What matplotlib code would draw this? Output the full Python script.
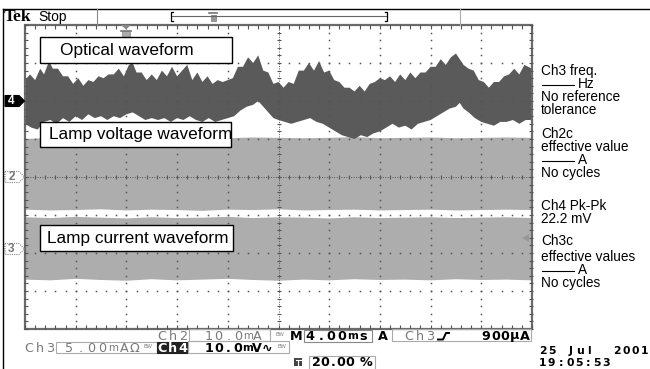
import numpy as np
import matplotlib
matplotlib.use("Agg")
import matplotlib.pyplot as plt
from matplotlib.patches import Rectangle, Polygon

plt.rcParams['font.family'] = ['Liberation Sans', 'DejaVu Sans']

# Ch4 optical waveform envelope (time in ms, level in divisions)
opt_top_t = [0.0, 0.4, 0.8, 1.2, 1.5, 1.9, 2.2, 2.6, 3.0, 3.4, 3.8, 4.2, 4.6, 5.0, 5.4, 5.8,
             6.2, 6.6, 7.0, 7.4, 7.8, 8.2, 8.5, 8.8, 9.2, 9.6, 10.0, 10.4, 10.8, 11.2, 11.6,
             12.0, 12.4, 12.8, 13.2, 13.6, 14.0, 14.4, 14.8, 15.2, 15.6, 16.0, 16.4, 16.8,
             17.2, 17.6, 18.0, 18.4, 18.8, 19.2, 19.6, 20.0, 20.4, 20.8, 21.2, 21.6, 22.0,
             22.4, 22.8, 23.2, 23.6, 24.0, 24.4, 24.8, 25.2, 25.6, 26.0, 26.4, 26.8, 27.2,
             27.6, 28.0, 28.4, 28.8, 29.2, 29.6, 30.0, 30.4, 30.8, 31.2, 31.6, 32.0, 32.4,
             32.8, 33.2, 33.6, 34.0, 34.3, 34.6, 35.0, 35.4, 35.8, 36.2, 36.6, 37.0, 37.4,
             37.8, 38.2, 38.6, 39.0, 39.4, 40.0]
opt_top = [2.55, 2.7, 2.55, 2.85, 2.7, 3.05, 2.85, 2.85, 2.65, 2.65, 2.45, 2.6, 2.4, 2.55, 2.5, 2.65,
           2.6, 2.7, 2.7, 2.85, 2.65, 2.95, 3.0, 2.75, 2.75, 2.55, 2.7, 2.55, 2.8, 2.65, 2.9,
           2.65, 2.8, 2.95, 2.55, 2.75, 2.5, 2.65, 2.45, 2.55, 2.5, 2.55, 2.6, 2.9,
           2.9, 3.15, 3.0, 3.2, 2.8, 2.75, 2.45, 2.5, 2.35, 2.5, 2.45, 2.8, 2.8,
           3.0, 2.8, 3.05, 2.75, 2.8, 2.55, 2.5, 2.35, 2.35, 2.25, 2.4, 2.25, 2.45,
           2.5, 2.6, 2.55, 2.65, 2.5, 2.7, 2.55, 2.75, 2.6, 2.75, 2.75, 2.9, 2.9,
           3.1, 2.95, 3.15, 3.25, 3.1, 2.95, 2.85, 2.8, 2.55, 2.5, 2.35, 2.5, 2.5,
           2.65, 2.7, 2.85, 2.7, 2.95, 2.85]
opt_bot_t = [0.0, 0.5, 1.0, 1.5, 2.0, 2.5, 3.0, 3.5, 4.0, 4.5, 5.0, 5.5, 6.0, 6.5, 7.0, 7.5,
             8.0, 8.5, 9.0, 9.5, 10.0, 10.5, 11.0, 11.5, 12.0, 12.5, 13.0, 13.5, 14.0, 14.5,
             15.0, 15.5, 16.0, 16.5, 17.0, 17.5, 18.0, 18.4, 18.8, 19.2, 19.6, 20.0, 20.5,
             21.0, 21.5, 22.0, 22.5, 23.0, 23.5, 24.0, 24.5, 25.0, 25.5, 26.0, 26.5, 27.0,
             27.5, 28.0, 28.5, 29.0, 29.5, 30.0, 30.5, 31.0, 31.5, 32.0, 32.5, 33.0, 33.5,
             34.0, 34.3, 34.6, 35.0, 35.5, 36.0, 36.5, 37.0, 37.5, 38.0, 38.5, 39.0, 39.5, 40.0]
opt_bot = [1.4, 1.3, 1.25, 1.45, 1.5, 1.4, 1.55, 1.45, 1.6, 1.5, 1.65, 1.55, 1.6, 1.5, 1.6, 1.55,
           1.65, 1.7, 1.6, 1.5, 1.55, 1.5, 1.55, 1.45, 1.55, 1.5, 1.6, 1.5, 1.45, 1.55,
           1.45, 1.5, 1.55, 1.6, 1.75, 1.85, 1.9, 2.0, 1.85, 1.7, 1.55, 1.5, 1.45,
           1.4, 1.45, 1.5, 1.55, 1.45, 1.4, 1.3, 1.2, 1.1, 1.05, 1.0, 1.1, 1.05,
           1.15, 1.2, 1.3, 1.4, 1.3, 1.35, 1.25, 1.4, 1.45, 1.5, 1.6, 1.7, 1.8,
           1.85, 1.95, 1.8, 1.7, 1.55, 1.45, 1.4, 1.35, 1.45, 1.45, 1.5, 1.4, 1.5, 1.5]

# Ch2 lamp voltage and Ch3 lamp current bands
band_t = [0, 2, 4, 6, 8, 10, 12, 14, 16, 18, 20, 22, 24, 26, 28, 30, 32, 34, 36, 38, 40]
volt_top = [1.0, 1.03, 1.02, 1.04, 1.03, 1.02, 1.05, 1.03, 1.02, 1.04, 1.03, 1.02, 1.03,
            1.05, 1.02, 1.03, 1.04, 1.02, 1.03, 1.04, 1.03]
volt_bot = [-0.86, -0.88, -0.87, -0.85, -0.88, -0.86, -0.87, -0.89, -0.86, -0.87, -0.85,
            -0.88, -0.87, -0.86, -0.88, -0.87, -0.86, -0.88, -0.87, -0.86, -0.87]
cur_top = [-1.06, -1.08, -1.05, -1.07, -1.09, -1.06, -1.08, -1.07, -1.05, -1.08, -1.06,
           -1.07, -1.09, -1.06, -1.08, -1.07, -1.06, -1.08, -1.07, -1.06, -1.08]
cur_bot = [-2.7, -2.72, -2.68, -2.71, -2.73, -2.69, -2.72, -2.7, -2.68, -2.71, -2.73,
           -2.7, -2.72, -2.69, -2.71, -2.7, -2.72, -2.69, -2.71, -2.7, -2.72]

wave_labels = ["Optical waveform", "Lamp voltage waveform", "Lamp current waveform"]
readout_lines = ["Ch3 freq.", "Hz", "No reference", "tolerance", "Ch2c", "effective value", "A",
                 "No cycles", "Ch4 Pk-Pk", "22.2 mV", "Ch3c", "effective values", "A", "No cycles"]

fig = plt.figure(figsize=(6.5, 3.69), dpi=100)
fig.patch.set_facecolor('white')

# scope graticule: 10 div x 4 ms, 8 div vertical
ax = fig.add_axes([25/650, 1-329/369, 507/650, 304/369])
ax.set_xlim(0, 40)
ax.set_ylim(-4, 4)
ax.axis('off')

ax.fill(np.r_[band_t, band_t[::-1]], np.r_[volt_top, volt_bot[::-1]], color='#adadad', lw=0, zorder=1)
ax.fill(np.r_[band_t, band_t[::-1]], np.r_[cur_top, cur_bot[::-1]], color='#adadad', lw=0, zorder=1)
ax.fill(np.r_[opt_top_t, opt_bot_t[::-1]], np.r_[opt_top, opt_bot[::-1]], color='#5a5a5a', lw=0, zorder=2)

gc = '#555555'
ys = np.arange(-4, 4.001, 0.2)
xs = np.arange(0, 40.001, 0.8)
for gx in [4, 8, 12, 16, 24, 28, 32, 36]:
    ax.plot(np.full_like(ys, gx), ys, ls='none', marker='s', ms=1.1, mew=0, color=gc, zorder=3)
for gy in [-3, -2, -1, 1, 2, 3]:
    ax.plot(xs, np.full_like(xs, gy), ls='none', marker='s', ms=1.1, mew=0, color=gc, zorder=3)

# center cross with minor ticks
ax.plot([0, 40], [0, 0], color=gc, lw=0.7, ls=(0, (1, 1.5)), zorder=3)
ax.plot(xs, np.zeros_like(xs), ls='none', marker='|', ms=3.5, mew=0.8, color=gc, zorder=3)
ax.plot([20, 20], [-4, 4], color=gc, lw=0.7, ls=(0, (1, 1.5)), zorder=3)
ax.plot(np.full_like(ys, 20), ys, ls='none', marker='_', ms=3.5, mew=0.8, color=gc, zorder=3)

# border with inward ticks
ax.add_patch(Rectangle((0, -4), 40, 8, fill=False, ec='#6a6a6a', lw=1.6, clip_on=False, zorder=4))
ax.plot(xs, np.full_like(xs, 3.94), ls='none', marker='|', ms=3, mew=0.8, color=gc, clip_on=False, zorder=4)
ax.plot(xs, np.full_like(xs, -3.94), ls='none', marker='|', ms=3, mew=0.8, color=gc, clip_on=False, zorder=4)
ax.plot(np.full_like(ys, 0.08), ys, ls='none', marker='_', ms=3, mew=0.8, color=gc, clip_on=False, zorder=4)
ax.plot(np.full_like(ys, 39.92), ys, ls='none', marker='_', ms=3, mew=0.8, color=gc, clip_on=False, zorder=4)

# overlay in pixel coordinates for the scope decorations
ov = fig.add_axes([0, 0, 1, 1], zorder=5)
ov.set_xlim(0, 650)
ov.set_ylim(369, 0)
ov.axis('off')
ov.patch.set_alpha(0)

ov.plot([3, 650], [9, 9], color='black', lw=1)
ov.plot([3, 3], [9, 369], color='black', lw=1)
ov.text(4, 17, "Tek", fontsize=12.5, fontweight='bold', family='Liberation Serif', va='center')
ov.text(38, 17, "Stop", fontsize=10, va='center')
ov.plot([97, 97], [9, 25], color='#888888', lw=0.8)
ov.plot([460, 460], [9, 25], color='#aaaaaa', lw=0.8)
# record-length bracket with trigger position
ov.plot([171, 387], [16, 16], color='#666666', lw=0.8)
ov.plot([173, 171, 171, 173], [12, 12, 21, 21], color='black', lw=0.9)
ov.plot([385, 387, 387, 385], [12, 12, 21, 21], color='black', lw=0.9)
ov.add_patch(Rectangle((210.5, 15), 5, 6, fc='#999999', ec='#777777', lw=0.5))
ov.plot([209, 217], [13, 13], color='#777777', lw=1.2)
# trigger marker on graticule
ov.add_patch(Polygon([(121, 25), (131, 25), (126, 29.5)], closed=True, fc='#888888', ec='none'))
ov.add_patch(Rectangle((122, 31), 8, 6, fc='#aaaaaa', ec='#888888', lw=0.5))
ov.plot([121, 131], [31, 31], color='#777777', lw=1.2)

# channel ground markers
def ch_marker(y, label, dark):
    pts = [(5, y-5.5), (19, y-5.5), (24.5, y), (19, y+5.5), (5, y+5.5)]
    if dark:
        ov.add_patch(Polygon(pts, closed=True, fc='black', ec='black', lw=0.8))
        ov.text(11.5, y+0.5, label, color='white', fontsize=8.5, fontweight='bold', ha='center', va='center')
    else:
        ov.add_patch(Polygon(pts, closed=True, fc='white', ec='#888888', lw=0.8, ls=(0, (1, 1))))
        ov.text(11.5, y+0.5, label, color='#777777', fontsize=8.5, fontweight='bold', ha='center', va='center')

ch_marker(101, "4", True)
ch_marker(177, "2", False)
ch_marker(249, "3", False)
ov.add_patch(Polygon([(522, 238), (529, 234), (529, 242)], closed=True, fc='#999999', ec='none'))

# waveform label boxes
for (x0, y0, w, h, tx), lab in zip([(40, 37, 192, 26, 60), (40, 122, 191, 25, 49), (40, 225, 193, 26, 47)], wave_labels):
    ov.add_patch(Rectangle((x0, y0), w, h, fc='white', ec='black', lw=1))
    ov.text(tx, y0 + h/2 + 0.5, lab, fontsize=12.4, va='center')

# measurement readouts on the right
ry = [71, 84, 97, 110, 134, 147, 160, 173, 206, 219, 241, 257, 270, 283]
for txt, y in zip(readout_lines, ry):
    if txt in ("Hz", "A"):
        ov.plot([542, 574], [y+0.5, y+0.5], color='black', lw=0.8)
        ov.text(578, y, txt, fontsize=9.8, va='center')
    else:
        ov.text(541, y, txt, fontsize=9.8, va='center')

# bottom settings readout, fixed-pitch characters like the scope font
def spaced(x, y, s, pitch, color='black', weight='normal', size=9.2):
    for i, ch in enumerate(s):
        sz = size * 0.8 if ch == 'm' else size
        ov.text(x + (i + 0.5) * pitch, y, ch, color=color, fontsize=sz, fontweight=weight,
                family=['DejaVu Sans'], ha='center', va='center')

grey = '#7a7a7a'
bc = '#aaaaaa'
ov.add_patch(Rectangle((189, 329), 81, 11.5, fill=False, ec=bc, lw=0.8))
ov.add_patch(Rectangle((304, 330), 68, 12, fill=False, ec='#888888', lw=0.8))
ov.add_patch(Rectangle((392, 329), 139, 12, fill=False, ec=bc, lw=0.8))
ov.add_patch(Rectangle((56, 342), 101, 11, fill=False, ec=bc, lw=0.8))
ov.add_patch(Rectangle((157, 342), 31, 11, fc='#222222', ec='#222222', lw=0.8))
ov.add_patch(Rectangle((188, 341), 101, 12, fill=False, ec=bc, lw=0.8))
ov.add_patch(Rectangle((309, 356), 66, 13, fill=False, ec=bc, lw=0.8))

spaced(157, 336, "Ch2", 10.3, grey)
spaced(204, 336, "10.0mA", 9.7, grey)
ov.text(276, 335, "BW", fontsize=4, color=grey, va='center')
spaced(290, 336, "M", 12, 'black', 'bold')
spaced(305, 336, "4.00ms", 10.5, 'black', 'bold')
spaced(378, 336, "A", 10, 'black', 'bold')
spaced(404, 336, "Ch3", 10.3, grey)
ov.plot([438, 443, 446, 449], [339.5, 339.5, 333, 333], color='black', lw=1.4)
spaced(481, 336, "900\u03bcA", 9.7, 'black', 'bold')

spaced(24, 348, "Ch3", 10.3, grey)
spaced(64, 348, "5.00mA\u03a9", 10.9, grey)
ov.text(143, 347, "BW", fontsize=4, color=grey, va='center')
spaced(157, 348, "Ch4", 10.3, 'white', 'bold')
spaced(204, 348, "10.0mV\u223f", 9.7, 'black', 'bold')
ov.text(277, 347, "BW", fontsize=4, color=grey, va='center')

ov.add_patch(Rectangle((294, 358), 8, 8, fc='#444444', ec='none'))
ov.plot([295.5, 300.5], [360, 360], color='white', lw=0.8)
ov.plot([298, 298], [360, 365], color='white', lw=0.8)
spaced(312, 362.5, "20.00 %", 8.3, 'black', 'bold')

spaced(538, 350.5, "25 Jul  2001", 9.25, 'black', 'bold', 7.8)
spaced(538, 362.5, "19:05:53", 9.1, 'black', 'bold', 7.8)

fig.savefig("out.png", dpi=100)
